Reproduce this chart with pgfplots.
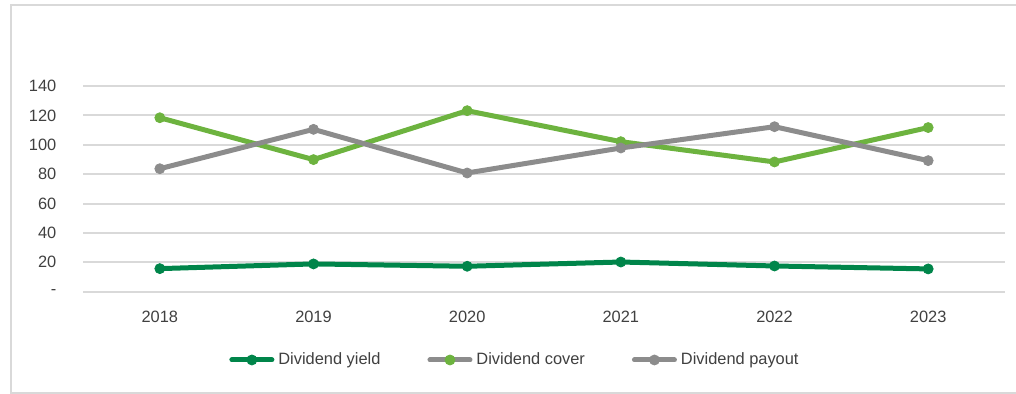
\documentclass[border=0pt]{standalone}
\usepackage{fontspec}
\setmainfont{Liberation Sans}
\usepackage{pgfplots}
\pgfplotsset{compat=1.18}
\definecolor{dgreen}{HTML}{00854A}
\definecolor{lgreen}{HTML}{6DB33F}
\definecolor{cgray}{HTML}{8C8C8C}
\definecolor{gridc}{HTML}{D9D9D9}
\definecolor{txt}{HTML}{404040}
\begin{document}
\begin{tikzpicture}[x=1pt,y=1pt]
\path[use as bounding box] (0,0) rectangle (508,197);
\draw[gridc, line width=1pt] (5.5,0.5) rectangle (520,194.5);
\begin{axis}[
  at={(41.5pt,51.15pt)}, anchor=south west,
  scale only axis, width=461pt, height=102.85pt,
  xmin=-0.5, xmax=5.5, ymin=0, ymax=140,
  clip=false,
  axis line style={draw=none},
  major tick length=0pt,
  ymajorgrids, grid style={gridc, line width=1pt},
  xtick={0,1,2,3,4,5},
  xticklabels={2018,2019,2020,2021,2022,2023},
  ytick={0,20,40,60,80,100,120,140},
  yticklabels={-\hspace{3pt},20,40,60,80,100,120,140},
  ticklabel style={font=\fontsize{8.2pt}{9.8pt}\selectfont, text=txt},
  yticklabel style={xshift=-9.8pt},
  xticklabel style={yshift=-6pt},
  legend columns=3,
  legend style={draw=none, at={(0.4696,-0.332)}, anchor=center,
    font=\fontsize{8.2pt}{9.8pt}\selectfont, text=txt,
    /tikz/every even column/.append style={column sep=21.5pt},
    inner sep=0pt},
  legend cell align=left,
  legend image code/.code={\draw[line cap=round, mark repeat=2, mark phase=2, #1] plot coordinates {(0pt,0pt) (10pt,0pt) (20pt,0pt)};},
  every axis plot/.append style={line width=2.5pt, line cap=round, mark=*, mark size=2.5pt},
]
\addplot[dgreen, mark options={fill=dgreen, draw=dgreen, line width=0.4pt}, forget plot] coordinates {(0,15.7) (1,18.9) (2,17.3) (3,20.2) (4,17.5) (5,15.5)};
\addplot[lgreen, mark options={fill=lgreen, draw=lgreen, line width=0.4pt}, forget plot] coordinates {(0,118.4) (1,89.9) (2,123.2) (3,102.1) (4,88.3) (5,111.7)};
\addplot[cgray, mark options={fill=cgray, draw=cgray, line width=0.4pt}, forget plot] coordinates {(0,83.7) (1,110.5) (2,80.8) (3,97.8) (4,112.3) (5,89.2)};
\addlegendimage{dgreen, line width=2.5pt, mark=*, mark size=2.5pt, mark options={fill=dgreen, draw=dgreen, line width=0.4pt}}
\addlegendentry{Dividend yield}
\addlegendimage{cgray, line width=2.5pt, mark=*, mark size=2.5pt, mark options={fill=lgreen, draw=lgreen, line width=0.4pt}}
\addlegendentry{Dividend cover}
\addlegendimage{cgray, line width=2.5pt, mark=*, mark size=2.5pt, mark options={fill=cgray, draw=cgray, line width=0.4pt}}
\addlegendentry{Dividend payout}
\end{axis}
\end{tikzpicture}
\end{document}
